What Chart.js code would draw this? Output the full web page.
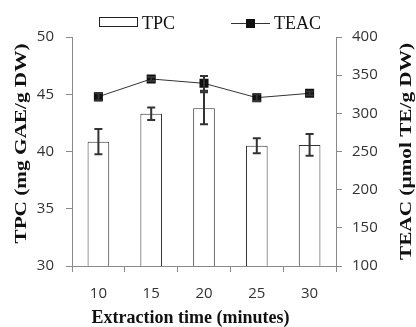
<!DOCTYPE html>
<html>
<head>
<meta charset="utf-8">
<script src="https://cdn.jsdelivr.net/npm/chart.js@4/dist/chart.umd.min.js"></script>
<style>
  html, body { margin: 0; padding: 0; background: #fff; }
  #wrap { width: 416px; height: 327px; }
</style>
</head>
<body>
<div id="wrap"><canvas id="myChart" width="416" height="327"></canvas></div>
<script>
// chart data
let times = ['10', '15', '20', '25', '30'];
let tpcValues = [40.86, 43.3, 43.78, 40.5, 40.57];
let tpcErrors = [1.1, 0.55, 1.4, 0.65, 0.95];
let teacValues = [321.8, 345, 339.3, 320.5, 326.2];
let teacErrors = [5, 2.5, 9.6, 4.5, 2.5];
let tpcTicks = [30, 35, 40, 45, 50];
let teacTicks = [100, 150, 200, 250, 300, 350, 400];

let serif = '"Liberation Serif", "Times New Roman", serif';
let sans = '"Open Sans", sans-serif';

//error bars drawn through the scales
let errorBars = {
    id: 'errorBars',
    afterDatasetsDraw(chart) {
        let ctx = chart.ctx;
        let errs = [tpcErrors, teacErrors];
        chart.data.datasets.forEach((ds, d) => {
            let meta = chart.getDatasetMeta(d);
            let scale = chart.scales[meta.yAxisID];
            ctx.save();
            ctx.strokeStyle = '#333';
            ctx.lineWidth = 2;
            meta.data.forEach((el, i) => {
                let v = ds.data[i];
                let top = scale.getPixelForValue(v + errs[d][i]);
                let bot = scale.getPixelForValue(v - errs[d][i]);
                ctx.beginPath();
                ctx.moveTo(el.x, top); ctx.lineTo(el.x, bot);
                ctx.moveTo(el.x - 4, top); ctx.lineTo(el.x + 4, top);
                ctx.moveTo(el.x - 4, bot); ctx.lineTo(el.x + 4, bot);
                ctx.stroke();
            });
            ctx.restore();
        });
    }
};

//draw a rotated title, stretched along its length like the original
function sideTitle(ctx, text, x, y, stretch) {
    ctx.save();
    ctx.translate(x, y);
    ctx.rotate(-Math.PI / 2);
    ctx.scale(stretch, 1);
    ctx.fillText(text, 0, 0);
    ctx.restore();
}

//legend and axis titles
let extras = {
    id: 'extras',
    afterDraw(chart) {
        let ctx = chart.ctx;
        ctx.save();
        ctx.fillStyle = '#111';
        ctx.textBaseline = 'alphabetic';
        ctx.font = '18px ' + serif;
        // TPC box
        ctx.strokeStyle = '#222';
        ctx.lineWidth = 1;
        ctx.strokeRect(99.5, 17.5, 38, 9);
        ctx.fillText(chart.data.datasets[0].label, 142, 29);
        // TEAC line + marker
        ctx.beginPath();
        ctx.moveTo(231, 23.5); ctx.lineTo(270, 23.5);
        ctx.strokeStyle = '#333';
        ctx.stroke();
        ctx.fillRect(246, 19, 9, 9);
        ctx.fillText(chart.data.datasets[1].label, 274, 29);

        ctx.font = 'bold 18px ' + serif;
        ctx.textAlign = 'center';
        ctx.fillText('Extraction time (minutes)', 190.5, 323);

        ctx.font = 'bold 17px ' + serif;
        sideTitle(ctx, 'TPC (mg GAE/g DW)', 26, 143.5, 1.25);
        sideTitle(ctx, 'TEAC (µmol TE/g DW)', 411, 151.5, 1.25);
        ctx.restore();
    }
};

let elCanvas = document.getElementById('myChart').getContext('2d');

let elChart = new Chart(elCanvas, {
    type: 'bar',
    data: {
        labels: times,
        datasets: [
            {
                label: 'TPC',
                data: tpcValues,
                yAxisID: 'y',
                backgroundColor: '#ffffff',
                borderColor: '#333',
                borderWidth: 1,
                categoryPercentage: 1,
                barPercentage: 0.41,
                order: 1
            },
            {
                type: 'line',
                label: 'TEAC',
                data: teacValues,
                yAxisID: 'y1',
                borderColor: '#333',
                borderWidth: 1,
                backgroundColor: '#111',
                pointStyle: 'rect',
                pointRadius: 6.4,
                pointBorderWidth: 0,
                pointBackgroundColor: '#111',
                order: 0
            }
        ]
    },
    plugins: [errorBars, extras],
    options: {
        responsive: false,
        animation: false,
        layout: { padding: { top: 37, left: 0, right: 0, bottom: 0 } },
        plugins: {
            legend: { display: false },
            tooltip: { enabled: false }
        },
        scales: {
            x: {
                afterFit: s => { s.height = 61; },
                grid: { drawOnChartArea: false, drawTicks: true, tickLength: 6, color: '#8a8a8a', offset: true },
                border: { color: '#8a8a8a' },
                ticks: { font: { family: sans, size: 15 }, color: '#333', padding: 13 }
            },
            y: {
                position: 'left',
                min: 30, max: 50,
                afterFit: s => { s.width = 72; },
                afterBuildTicks: s => { s.ticks = tpcTicks.map(v => ({ value: v })); },
                grid: { drawOnChartArea: false, drawTicks: true, tickLength: 6, color: '#8a8a8a' },
                border: { color: '#8a8a8a' },
                ticks: { font: { family: sans, size: 15 }, color: '#333', padding: 12 }
            },
            y1: {
                position: 'right',
                min: 100, max: 400,
                afterFit: s => { s.width = 80; },
                afterBuildTicks: s => { s.ticks = teacTicks.map(v => ({ value: v })); },
                grid: { drawOnChartArea: false, drawTicks: true, tickLength: 6, color: '#8a8a8a' },
                border: { color: '#8a8a8a' },
                ticks: { font: { family: sans, size: 15 }, color: '#333', padding: 10 }
            }
        }
    }
});
</script>
</body>
</html>
